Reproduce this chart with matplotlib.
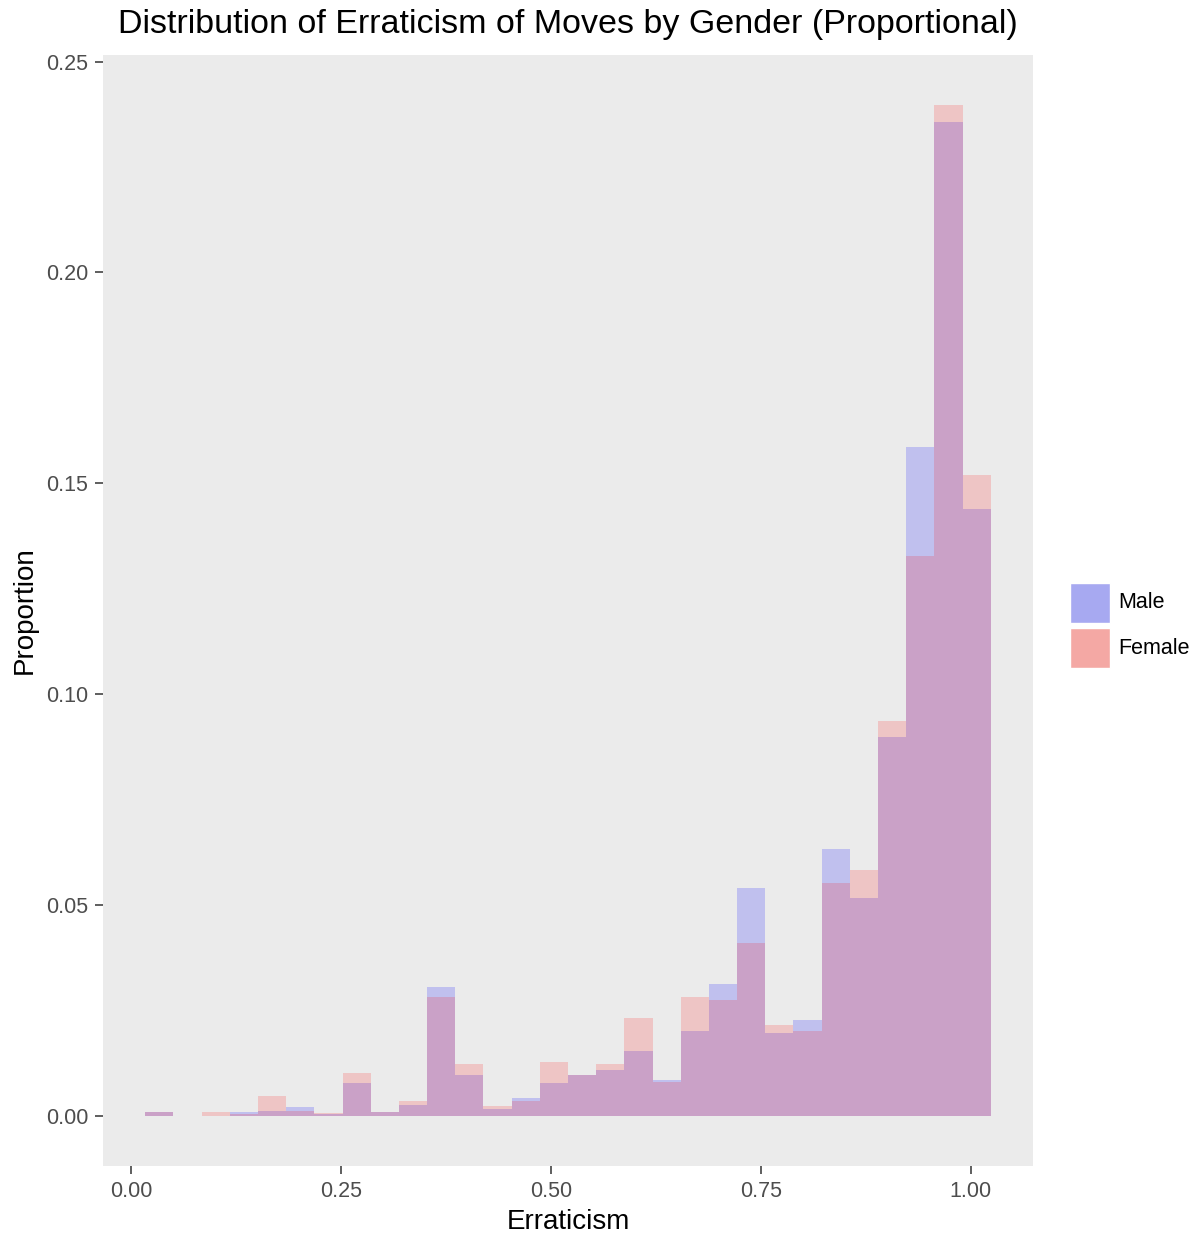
import matplotlib
matplotlib.use("Agg")
import matplotlib.pyplot as plt
from matplotlib.patches import Rectangle
import numpy as np

plt.rcParams['font.family'] = ['Liberation Sans', 'DejaVu Sans']

# Histogram bins (30 bins)
bin_start = 0.0166
bin_width = 0.03357
n_bins = 30

male = [0.0008, 0.0, 0.0, 0.0008, 0.0010, 0.0021, 0.0003, 0.0078, 0.0008, 0.0024,
        0.0305, 0.0097, 0.0015, 0.0042, 0.0077, 0.0095, 0.0109, 0.0152, 0.0085, 0.0201,
        0.0312, 0.0540, 0.0196, 0.0226, 0.0632, 0.0516, 0.0897, 0.1586, 0.2358, 0.1439]
female = [0.0008, 0.0, 0.0008, 0.0004, 0.0047, 0.0010, 0.0006, 0.0102, 0.0008, 0.0035,
          0.0282, 0.0121, 0.0022, 0.0034, 0.0127, 0.0095, 0.0121, 0.0231, 0.0080, 0.0281,
          0.0275, 0.0410, 0.0214, 0.0201, 0.0552, 0.0582, 0.0935, 0.1328, 0.2396, 0.1520]

x_ticks = [0.00, 0.25, 0.50, 0.75, 1.00]
x_ticklabels = ["0.00", "0.25", "0.50", "0.75", "1.00"]
y_ticks = [0.00, 0.05, 0.10, 0.15, 0.20, 0.25]
y_ticklabels = ["0.00", "0.05", "0.10", "0.15", "0.20", "0.25"]
legend_labels = ["Male", "Female"]
legend_colors = ["#a7a9f1", "#f4a8a4"]

W, H = 1204, 1237
fig = plt.figure(figsize=(W / 100, H / 100), dpi=100)
fig.patch.set_facecolor("white")
ax = fig.add_axes([103 / W, 1 - 1166 / H, 930 / W, 1111 / H])
ax.set_facecolor("#ebebeb")

edges = bin_start + bin_width * np.arange(n_bins)
ax.bar(edges, male, width=bin_width, align="edge", color=(0, 0, 1, 0.18), linewidth=0)
ax.bar(edges, female, width=bin_width, align="edge", color=(1, 0, 0, 0.16), linewidth=0)

lo = bin_start
hi = bin_start + bin_width * n_bins
xr = hi - lo
ax.set_xlim(lo - 0.05 * xr, hi + 0.05 * xr)
ymax = max(max(male), max(female))
ax.set_ylim(-0.05 * ymax, ymax * 1.05)

for s in ax.spines.values():
    s.set_visible(False)
ax.set_xticks(x_ticks)
ax.set_xticklabels(x_ticklabels)
ax.set_yticks(y_ticks)
ax.set_yticklabels(y_ticklabels)
ax.tick_params(axis="both", length=5.5, width=1.1, color="#333333", labelcolor="#4d4d4d",
               labelsize=15.5, pad=5)
ax.grid(False)

ax.set_xlabel("Erraticism", fontsize=20, color="black", labelpad=5)
ax.set_ylabel("Proportion", fontsize=20, color="black", labelpad=6)
fig.text(568 / W, 1 - 25 / H, "Distribution of Erraticism of Moves by Gender (Proportional)",
         ha="center", va="center", fontsize=24.5, color="black")

# Legend (manual keys, ggplot-like)
key_w, key_h, key_gap = 40, 40, 5
kx, ky = 1070, 583
for i, (lab, col) in enumerate(zip(legend_labels, legend_colors)):
    top = ky + i * (key_h + key_gap)
    fig.add_artist(Rectangle((kx / W, 1 - (top + key_h) / H), key_w / W, key_h / H,
                             transform=fig.transFigure, facecolor=col, edgecolor="white",
                             linewidth=1))
    fig.text((kx + key_w + 8) / W, 1 - (top + key_h / 2) / H, lab, ha="left", va="center",
             fontsize=15.5, color="black")

fig.savefig("out.png", dpi=100)
